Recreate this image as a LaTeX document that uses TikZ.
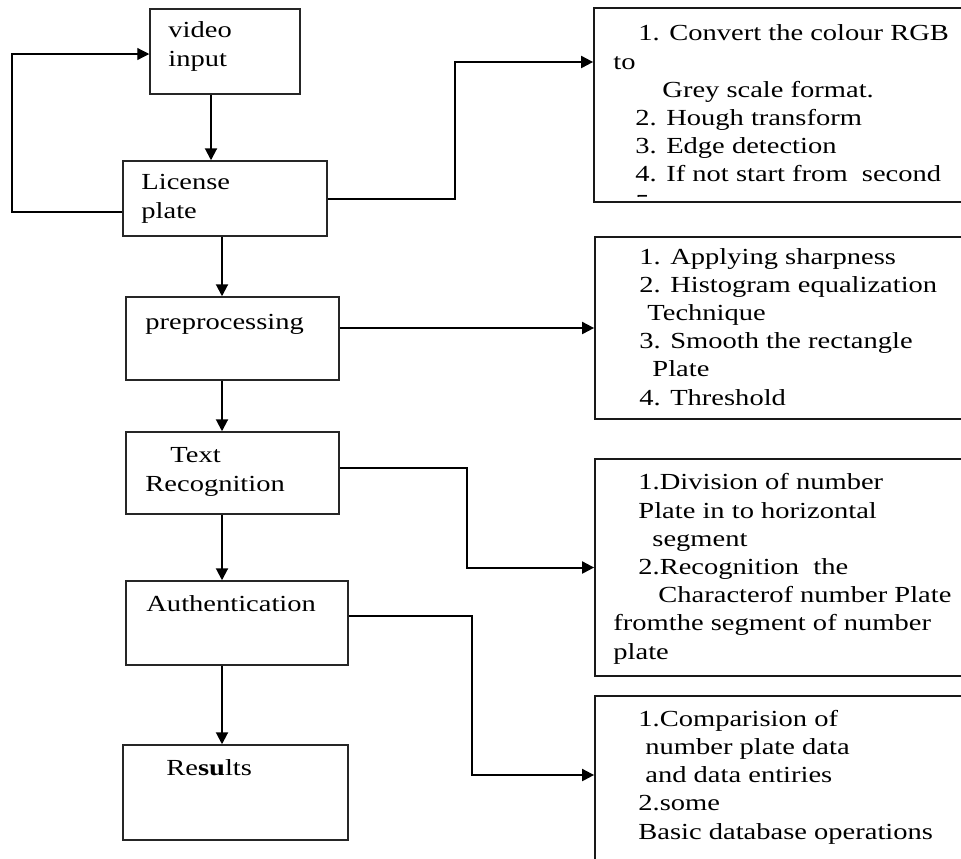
\documentclass[tikz,border=0pt]{standalone}
\usepackage{fontspec}
\setmainfont{Liberation Serif}[FakeStretch=1.24]
\usetikzlibrary{arrows.meta, positioning, fit, calc}

\begin{document}
\begin{tikzpicture}[x=0.5pt, y=-0.5pt, every node/.style={font=\fontsize{11.5}{14.1}\selectfont}, >={Triangle[length=6pt, width=6pt]}]
  \tikzset{
    blk/.style={rectangle, draw=black!85, line width=0.75pt, inner sep=0pt},
    note/.style={rectangle, draw=black!90, line width=0.9pt, inner sep=0pt},
    txt/.style={inner sep=0pt, anchor=base west, align=left},
    arrow/.style={->, line width=1pt, draw=black},
    loopline/.style={->, line width=0.6pt, draw=black}
  }
  \useasboundingbox (0,0) rectangle (961,858);
  \clip (0,0) rectangle (961,858);

  % processing chain on the left
  \node[blk, fit={(150,9) (300,94)}] (video) {};
  \node[blk, fit={(123,161) (327,236)}] (plate) {};
  \node[blk, fit={(126,297) (339,380)}] (prep) {};
  \node[blk, fit={(126,432) (339,514)}] (textrec) {};
  \node[blk, fit={(126,581) (348,665)}] (auth) {};
  \node[blk, fit={(123,745) (348,840)}] (results) {};

  % text nodes sit on the baseline of their last line
  \node[txt] (videotxt) at (168,66) {video\\input};
  \node[txt] (platetxt) at (141,218) {License\\plate};
  \node[txt] (preptxt) at (145,329) {preprocessing};
  \node[txt] (textrectxt) at (145,491) {\hspace*{12.5pt}Text\\Recognition};
  \node[txt] (authtxt) at (146,611) {Authentication};
  \node[txt] (resultstxt) at (166,775) {Re\textbf{su}lts};

  % detail boxes on the right, cut off by the page edge
  \node[note, fit={(594,8) (1010,202)}] (convert) {};
  \node[note, fit={(595,237) (1010,419)}] (enhance) {};
  \node[note, fit={(595,459) (1010,676)}] (segment) {};
  \node[note, fit={(595,696) (1010,900)}] (compare) {};

  \begin{scope}
    \clip (594,8) rectangle (1010,196);
    \node[txt] (converttxt) at (613,210) {\hspace*{12.5pt}1. Convert the colour RGB\\to\\\hspace*{24.5pt}Grey scale format.\\\hspace*{11pt}2. Hough transform\\\hspace*{11pt}3. Edge detection\\\hspace*{11pt}4. If not start from\ \ second\\\hspace*{11pt}5.};
  \end{scope}
  \node[txt] (enhancetxt) at (639,405) {1. Applying sharpness\\2. Histogram equalization\\\hspace*{4pt}Technique\\3. Smooth the rectangle\\\hspace*{6.5pt}Plate\\4. Threshold};
  \node[txt] (segmenttxt) at (613,659) {\hspace*{12.5pt}1.Division of number\\\hspace*{12.5pt}Plate in to horizontal\\\hspace*{19.5pt}segment\\\hspace*{12.5pt}2.Recognition\ \ the\\\hspace*{22.5pt}Characterof number Plate\\fromthe segment of number\\plate};
  \node[txt] (comparetxt) at (638,839) {1.Comparision of\\\hspace*{3.5pt}number plate data\\\hspace*{3.5pt}and data entiries\\2.some\\Basic database operations};

  % connectors
  \coordinate (spine) at (222,0);
  \coordinate (back) at (12,0);
  \coordinate (k1) at (455,62);
  \coordinate (k3) at (467,0);
  \coordinate (k4) at (472,775);

  \draw[arrow] ([xshift=-7pt]video.south) -- ([xshift=-7pt]video.south |- plate.north);
  \draw[arrow] (plate.south -| spine) -- (prep.north -| spine);
  \draw[arrow] (prep.south -| spine) -- (textrec.north -| spine);
  \draw[arrow] (textrec.south -| spine) -- (auth.north -| spine);
  \draw[arrow] (auth.south -| spine) -- (results.north -| spine);
  \draw[loopline] ([yshift=-6.75pt]plate.west) -| ([yshift=-1.25pt]video.west -| back) -- ([yshift=-1.25pt]video.west);

  \draw[arrow] (plate.east) -| (k1) -- (k1 -| convert.west);
  \draw[arrow] (prep.east |- enhance.west) -- (enhance.west);
  \draw[arrow] ([yshift=2.5pt]textrec.east) -| (k3 |- segment.west) -- (segment.west);
  \draw[arrow] ([yshift=3.5pt]auth.east) -| (k4) -- (k4 -| compare.west);
\end{tikzpicture}
\end{document}
